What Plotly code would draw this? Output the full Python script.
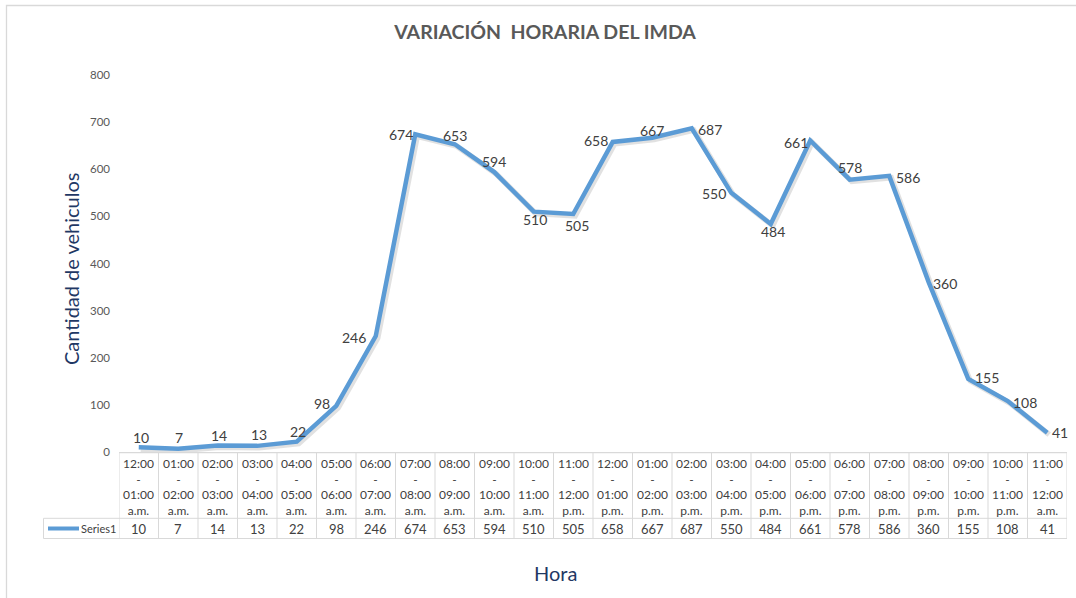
import plotly.graph_objects as go

# Hourly vehicle counts (IMDA hourly variation)
start_hours = ["12:00", "01:00", "02:00", "03:00", "04:00", "05:00", "06:00", "07:00",
               "08:00", "09:00", "10:00", "11:00", "12:00", "01:00", "02:00", "03:00",
               "04:00", "05:00", "06:00", "07:00", "08:00", "09:00", "10:00", "11:00"]
end_hours = ["01:00", "02:00", "03:00", "04:00", "05:00", "06:00", "07:00", "08:00",
             "09:00", "10:00", "11:00", "12:00", "01:00", "02:00", "03:00", "04:00",
             "05:00", "06:00", "07:00", "08:00", "09:00", "10:00", "11:00", "12:00"]
periods = ["a.m."] * 11 + ["p.m."] * 12 + ["a.m."]
vehicles = [10, 7, 14, 13, 22, 98, 246, 674, 653, 594, 510, 505,
            658, 667, 687, 550, 484, 661, 578, 586, 360, 155, 108, 41]
series_name = "Series1"

# label placement around each point (pixels: dx right, dy down)
label_offsets = [(2, -10), (1, -11), (1.5, -10), (2, -11), (1, -10), (-14.5, -2),
                 (-22, 1), (-14, 0), (0, -9), (0, -11), (1, 8), (4, 11),
                 (-17, -1), (0, -7), (18, 1), (-17, 1), (2, 8), (-14.5, 2),
                 (0, -12), (19, 1.5), (16, 1.6), (19, -1), (17, 1.6), (13, 0)]

W, H = 1076, 598
ML, MR, MT, MB = 119, 9, 75, 146
PW, PH = W - ML - MR, H - MT - MB
Y0_PX = MT + PH  # pixel row of the x axis


def px_x(px):
    return (px - ML) / PW


def px_y(py):
    return (Y0_PX - py) / PH


LINE_BLUE = "#5B9BD5"
GRID_GREY = "#D9D9D9"
TEXT_DARK = "#404040"
NAVY = "#1F3864"
FONT = "Lato"

n = len(vehicles)
idx = list(range(n))
x_range = [-0.5, n - 0.5]
y_range = [0, 800]

fig = go.Figure()

# soft drop shadow: same series on a pair of axes nudged right and down
sx = 0.05
sy = 4
fig.add_trace(go.Scatter(
    x=idx, y=vehicles, mode="lines", xaxis="x", yaxis="y",
    line=dict(color="rgba(70,70,70,0.16)", width=5.5),
    hoverinfo="skip", showlegend=False,
))
fig.add_trace(go.Scatter(
    x=idx, y=vehicles, mode="lines", name=series_name, xaxis="x2", yaxis="y2",
    line=dict(color=LINE_BLUE, width=4.5), showlegend=False,
))

annotations = []
# data labels
for i, v in enumerate(vehicles):
    dx, dy = label_offsets[i]
    annotations.append(dict(
        x=i, y=v, xref="x2", yref="y2", text=str(v), showarrow=False,
        xanchor="center", yanchor="middle", xshift=dx, yshift=-dy,
        font=dict(family=FONT, size=14, color=TEXT_DARK),
    ))

# data table below the axis
table_top = px_y(452.7)
row_split = px_y(518.3)
table_bottom = px_y(538.5)
legend_left = px_x(43.5)

shapes = []
for k in range(n + 1):
    shapes.append(dict(type="line", xref="x2", yref="paper",
                       x0=k - 0.5, x1=k - 0.5, y0=table_top, y1=table_bottom,
                       line=dict(color=GRID_GREY, width=1)))
shapes.append(dict(type="line", xref="x2", yref="paper", x0=-0.5, x1=n - 0.5,
                   y0=table_top, y1=table_top, line=dict(color=GRID_GREY, width=1.2)))
for yy in (row_split, table_bottom):
    shapes.append(dict(type="line", xref="paper", yref="paper", x0=legend_left,
                       x1=1, y0=yy, y1=yy, line=dict(color=GRID_GREY, width=1)))
shapes.append(dict(type="line", xref="paper", yref="paper", x0=legend_left,
                   x1=legend_left, y0=row_split, y1=table_bottom,
                   line=dict(color=GRID_GREY, width=1)))
# legend key inside the table
key_y = px_y(528.5)
shapes.append(dict(type="line", xref="paper", yref="paper", x0=px_x(48), x1=px_x(79),
                   y0=key_y, y1=key_y, line=dict(color=LINE_BLUE, width=4)))
annotations.append(dict(x=px_x(79), y=key_y, xref="paper", yref="paper",
                        text=series_name, showarrow=False, xanchor="left",
                        yanchor="middle", font=dict(family=FONT, size=11, color=TEXT_DARK)))

for i in idx:
    annotations.append(dict(
        x=i, y=px_y(454), xref="x2", yref="paper",
        text=f"{start_hours[i]}<br>-<br>{end_hours[i]}<br>{periods[i]}",
        showarrow=False, xanchor="center", yanchor="top",
        font=dict(family=FONT, size=12, color=TEXT_DARK),
    ))
    annotations.append(dict(
        x=i, y=key_y, xref="x2", yref="paper", text=str(vehicles[i]),
        showarrow=False, xanchor="center", yanchor="middle",
        font=dict(family=FONT, size=13, color=TEXT_DARK),
    ))

# axis titles
annotations.append(dict(x=px_x(71), y=px_y(269), xref="paper", yref="paper",
                        text="Cantidad de vehiculos", textangle=-90, showarrow=False,
                        xanchor="center", yanchor="middle",
                        font=dict(family=FONT, size=20, color=NAVY)))
annotations.append(dict(x=px_x(555), y=px_y(573), xref="paper", yref="paper",
                        text="Hora", showarrow=False, xanchor="center", yanchor="middle",
                        font=dict(family=FONT, size=20, color=NAVY)))

# chart border
shapes.append(dict(type="rect", xref="paper", yref="paper",
                   x0=px_x(6.5), x1=px_x(W + 5), y0=px_y(H + 5), y1=px_y(5.5),
                   line=dict(color=GRID_GREY, width=1.3), layer="below"))

fig.update_layout(
    width=W, height=H,
    margin=dict(l=ML, r=MR, t=MT, b=MB),
    paper_bgcolor="white", plot_bgcolor="white",
    title=dict(text="<b>VARIACIÓN  HORARIA DEL IMDA</b>", x=545 / W, xref="container",
               xanchor="center", y=1 - 32 / H, yref="container", yanchor="middle",
               font=dict(family=FONT, size=19.5, color="#595959")),
    xaxis=dict(range=[x_range[0] - sx, x_range[1] - sx], visible=False, fixedrange=True),
    yaxis=dict(range=[y_range[0] + sy, y_range[1] + sy], visible=False, fixedrange=True),
    xaxis2=dict(range=x_range, overlaying="x", visible=False, fixedrange=True),
    yaxis2=dict(range=y_range, overlaying="y", side="left", showgrid=False,
                zeroline=False, showline=False, tickmode="linear", tick0=0, dtick=100,
                ticks="", ticklabelstandoff=8,
                tickfont=dict(family=FONT, size=11.5, color="#595959"), fixedrange=True),
    annotations=annotations,
    shapes=shapes,
    showlegend=False,
    hovermode=False,
)

fig.write_html("out.html")
